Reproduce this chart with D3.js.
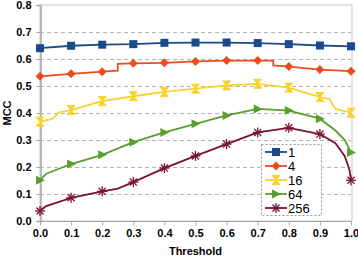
<!DOCTYPE html>
<html>
<head>
<meta charset="utf-8">
<script src="https://cdn.jsdelivr.net/npm/d3@7"></script>
<style>
  body { margin: 0; background: #fff; }
  svg { font-family: Arial, "Liberation Sans", sans-serif; }
</style>
</head>
<body>
<svg id="chart" width="358" height="257"></svg>
<script>
// series names and colours
const names = ['1', '4', '16', '64', '256']
const colors = ['#1a4a87', '#ee4b1e', '#f7d42a', '#5c9e2e', '#7a1136']

// values read at each threshold, with a few extra points where the curve steps
const s1 = [[0, 0.640], [0.1, 0.649], [0.2, 0.653], [0.3, 0.655], [0.4, 0.660], [0.5, 0.661],
  [0.6, 0.661], [0.7, 0.659], [0.8, 0.655], [0.9, 0.650], [1.0, 0.647]]
const s4 = [[0, 0.536], [0.1, 0.545], [0.2, 0.553], [0.25, 0.557], [0.25, 0.582], [0.3, 0.584],
  [0.4, 0.586], [0.5, 0.591], [0.6, 0.594], [0.7, 0.594], [0.75, 0.594], [0.75, 0.576],
  [0.8, 0.572], [0.9, 0.561], [1.0, 0.555]]
const s16 = [[0, 0.368], [0.04, 0.378], [0.06, 0.402], [0.1, 0.411], [0.2, 0.444], [0.3, 0.462],
  [0.4, 0.478], [0.5, 0.490], [0.6, 0.502], [0.7, 0.508], [0.8, 0.494], [0.9, 0.459],
  [0.93, 0.452], [0.95, 0.415], [1.0, 0.401]]
const s64 = [[0, 0.151], [0.02, 0.175], [0.1, 0.211], [0.2, 0.245], [0.3, 0.292], [0.4, 0.328],
  [0.5, 0.360], [0.6, 0.391], [0.7, 0.415], [0.8, 0.409], [0.9, 0.379], [0.95, 0.335],
  [0.98, 0.300], [1.0, 0.254]]
const s256 = [[0, 0.037], [0.02, 0.055], [0.1, 0.086], [0.2, 0.110], [0.25, 0.120], [0.3, 0.144],
  [0.4, 0.196], [0.5, 0.241], [0.6, 0.285], [0.7, 0.328], [0.8, 0.345], [0.9, 0.322],
  [0.95, 0.288], [0.98, 0.240], [0.995, 0.190], [1.0, 0.151]]
const seriesData = [s1, s4, s16, s64, s256]

const xTicks = d3.range(0, 11).map(i => i / 10)
const yTicks = d3.range(0, 9).map(i => i / 10)

const svg = d3.select('#chart')
const margin = { left: 40, right: 7, top: 5, bottom: 36 }
const W = 358, H = 257

const x = d3.scaleLinear().domain([0, 1]).range([margin.left, W - margin.right])
const y = d3.scaleLinear().domain([0, 0.8]).range([H - margin.bottom, margin.top])

// frame
svg.append('rect')
  .attr('x', x(0)).attr('y', y(0.8))
  .attr('width', x(1) - x(0) + 1).attr('height', y(0) - y(0.8))
  .attr('fill', 'none').attr('stroke', '#c8c8c8').attr('stroke-width', 1)

// dashed gridlines
svg.append('g').selectAll('line')
  .data(yTicks.filter(d => d > 0 && d < 0.8))
  .enter().append('line')
  .attr('x1', x(0)).attr('x2', x(1))
  .attr('y1', d => Math.round(y(d)) + 0.5).attr('y2', d => Math.round(y(d)) + 0.5)
  .attr('stroke', '#b4b4b4').attr('stroke-dasharray', '4,3')

// axes
const gx = svg.append('g')
  .attr('transform', `translate(0,${Math.round(y(0)) + 0.5})`)
  .call(d3.axisBottom(x).tickValues(xTicks).tickFormat(d3.format('.1f')).tickSize(4).tickPadding(4))
const gy = svg.append('g')
  .attr('transform', `translate(${x(0) + 0.5},0)`)
  .call(d3.axisLeft(y).tickValues(yTicks).tickFormat(d3.format('.1f')).tickSize(4).tickPadding(5))
;[gx, gy].forEach(g => {
  g.select('.domain').attr('stroke', '#a8a8a8').attr('stroke-width', 1.5)
  g.selectAll('.tick line').attr('stroke', '#a8a8a8')
  g.selectAll('text').attr('font-size', 11).attr('font-weight', 'bold')
    .attr('font-family', 'Arial, "Liberation Sans", sans-serif').attr('fill', '#000')
})
gx.select('.domain').remove()
gx.append('line').attr('x1', x(0)).attr('x2', x(1)).attr('stroke', '#a8a8a8')

// axis titles
svg.append('text')
  .attr('x', (x(0) + x(1)) / 2).attr('y', 255)
  .attr('text-anchor', 'middle').attr('font-size', 11).attr('font-weight', 'bold')
  .text('Threshold')
svg.append('text')
  .attr('transform', `translate(11,${(y(0) + y(0.8)) / 2}) rotate(-90)`)
  .attr('text-anchor', 'middle').attr('font-size', 11).attr('font-weight', 'bold')
  .text('MCC')

// marker shapes
function marker(g, i, cx, cy) {
  const c = colors[i]
  if (i === 0) {
    g.append('rect').attr('x', cx - 4).attr('y', cy - 4).attr('width', 8).attr('height', 8).attr('fill', c)
  } else if (i === 1) {
    g.append('path').attr('d', `M${cx},${cy - 4.5}L${cx + 4.5},${cy}L${cx},${cy + 4.5}L${cx - 4.5},${cy}Z`).attr('fill', c)
  } else if (i === 2) {
    g.append('path').attr('d', `M${cx - 4},${cy - 4.5}L${cx + 4},${cy - 4.5}L${cx - 4},${cy + 4.5}L${cx + 4},${cy + 4.5}Z`)
      .attr('fill', c).attr('stroke', c).attr('stroke-width', 1)
  } else if (i === 3) {
    g.append('path').attr('d', `M${cx - 4},${cy - 4.5}L${cx + 5},${cy}L${cx - 4},${cy + 4.5}Z`).attr('fill', c)
  } else {
    const r = 5
    for (let k = 0; k < 4; k++) {
      const a = k * Math.PI / 4
      g.append('line')
        .attr('x1', cx - r * Math.cos(a)).attr('y1', cy - r * Math.sin(a))
        .attr('x2', cx + r * Math.cos(a)).attr('y2', cy + r * Math.sin(a))
        .attr('stroke', c).attr('stroke-width', 1.3)
    }
  }
}

const line = d3.line().x(d => x(d[0])).y(d => y(d[1]))
const isTick = t => Math.abs(t * 10 - Math.round(t * 10)) < 1e-6

seriesData.forEach((data, i) => {
  const g = svg.append('g')
  g.append('path').datum(data).attr('d', line)
    .attr('fill', 'none').attr('stroke', colors[i]).attr('stroke-width', 1.8)
  data.filter(d => isTick(d[0])).forEach(d => marker(g, i, x(d[0]), y(d[1])))
})

// legend
const lg = svg.append('g')
lg.append('rect').attr('x', 261.5).attr('y', 144.5).attr('width', 60).attr('height', 71)
  .attr('fill', '#fff').attr('stroke', '#999').attr('stroke-dasharray', '2,2')
names.forEach((n, i) => {
  const ly = 152 + i * 14
  lg.append('line').attr('x1', 265).attr('x2', 287).attr('y1', ly).attr('y2', ly)
    .attr('stroke', colors[i]).attr('stroke-width', 1.8)
  marker(lg, i, 276, ly)
  lg.append('text').attr('x', 288).attr('y', ly + 4.5).attr('font-size', 13).text(n)
})
</script>
</body>
</html>
